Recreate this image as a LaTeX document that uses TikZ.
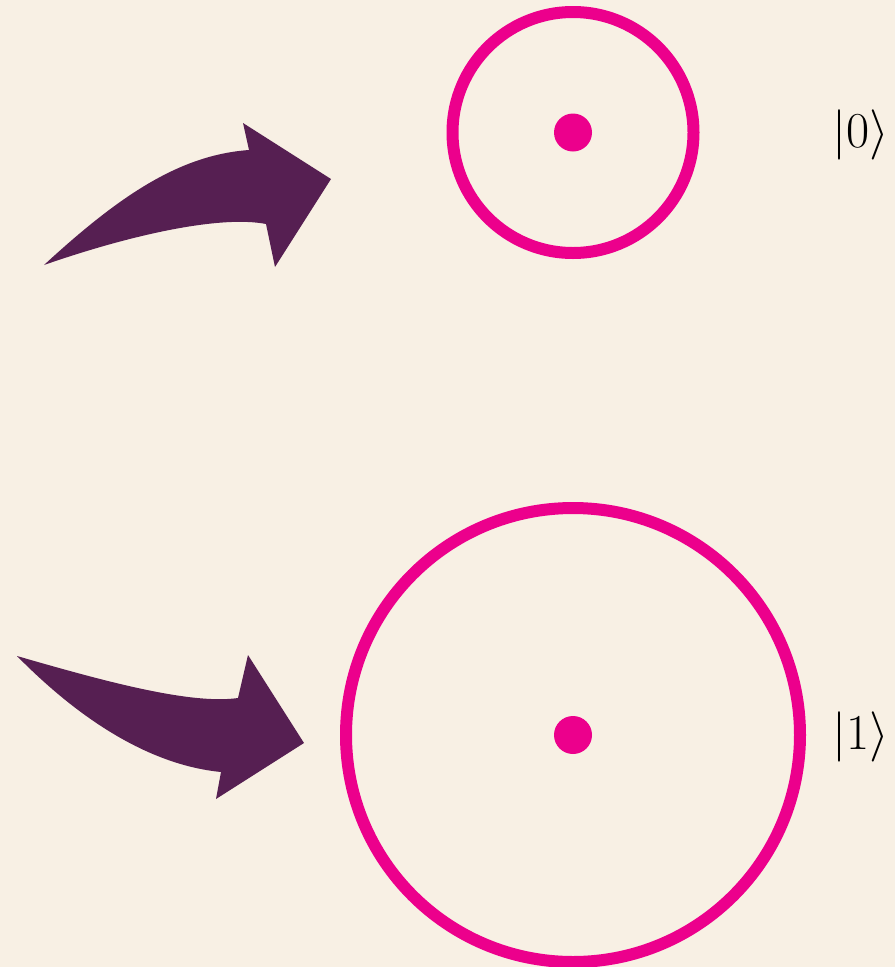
\documentclass[tikz,border=0pt]{standalone}
\usepackage{graphicx}
\definecolor{bg}{HTML}{F8F0E4}
\definecolor{ring}{HTML}{EC008C}
\definecolor{arr}{HTML}{561F52}
\newcommand{\ketsym}[1]{\scalebox{1.15}{$|#1\rangle$}}
\begin{document}
\begin{tikzpicture}[x=0.02cm,y=-0.02cm,
  ringstyle/.style={draw=ring,line width=12*0.02cm},
  dotstyle/.style={fill=ring},
  arrowshape/.style={fill=arr},
  ketlabel/.style={font=\fontsize{24.88}{30}\selectfont,inner sep=0pt}]
\fill[bg] (0,0) rectangle (895,967);
\useasboundingbox (0,0) rectangle (895,967);
% top state
\coordinate (c0) at (573,132.5);
\draw[ringstyle] (c0) circle (120.5);
\fill[dotstyle] (c0) circle (19);
\node[ketlabel] (k0) at (861,135) {\ketsym{0}};
% bottom state
\coordinate (c1) at (573,735);
\draw[ringstyle] (c1) circle (227);
\fill[dotstyle] (c1) circle (19);
\node[ketlabel] (k1) at (861,737) {\ketsym{1}};
% top arrow
\fill[arrowshape] (44,265) .. controls (120,195) and (180,155) .. (249,150)
  -- (243,123) -- (331,179) -- (275,267) -- (266,224)
  .. controls (220,215) and (130,235) .. (44,265) -- cycle;
% bottom arrow
\fill[arrowshape] (17,656) .. controls (100,680) and (190,705) .. (238,698)
  -- (248,655) -- (304,743) -- (216,799) -- (221,772)
  .. controls (150,765) and (80,720) .. (17,656) -- cycle;
\end{tikzpicture}
\end{document}
